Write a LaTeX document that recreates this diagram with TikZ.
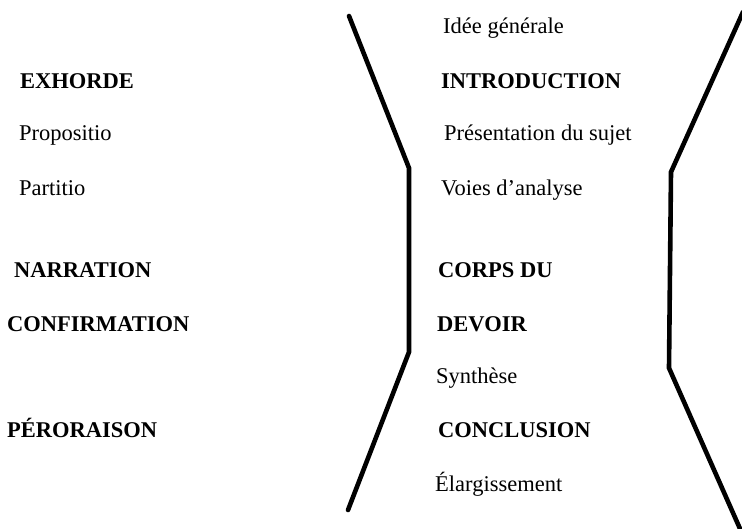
\documentclass[tikz,border=0pt]{standalone}
\usepackage{fontspec}
\newfontfamily\tmsfont{LiberationSerif}[Extension=.ttf,UprightFont=*-Regular,BoldFont=*-Bold]
\begin{document}
\begin{tikzpicture}[x=1pt,y=-1pt,
  lbl/.style={anchor=base west,inner sep=0pt,font=\tmsfont\fontsize{22.5}{27}\selectfont},
  blbl/.style={anchor=base west,inner sep=0pt,font=\tmsfont\bfseries\fontsize{22.5}{27}\selectfont},
  funnel/.style={line width=4.6pt,line join=miter,line cap=round}]
\useasboundingbox (0,0) rectangle (742,528);
\clip (0,0) rectangle (742,528);
% left column
\node[blbl] (exh) at (20,88) {EXHORDE};
\node[lbl] (prop) at (19,140) {Propositio};
\node[lbl] (part) at (19,195) {Partitio};
\node[blbl] (narr) at (14,277) {NARRATION};
\node[blbl] (conf) at (7,331) {CONFIRMATION};
\node[blbl] (pero) at (7,437) {PÉRORAISON};
% right column
\node[lbl] (idee) at (443,33) {Idée générale};
\node[blbl] (intro) at (441,88) {INTRODUCTION};
\node[lbl] (pres) at (444,140) {Présentation du sujet};
\node[lbl] (voies) at (441,195) {Voies d’analyse};
\node[blbl] (corps) at (438,277) {CORPS DU};
\node[blbl] (dev) at (437,331) {DEVOIR};
\node[lbl] (synt) at (436,383) {Synthèse};
\node[blbl] (concl) at (438,437) {CONCLUSION};
\node[lbl] (elarg) at (435,491) {Élargissement};
% funnel lines
\coordinate (l1) at (349,16);
\coordinate (l2) at (409,168);
\coordinate (l3) at (409,352);
\coordinate (l4) at (348,510);
\coordinate (r1) at (743,12);
\coordinate (r2) at (671,172);
\coordinate (r3) at (669,368);
\coordinate (r4) at (741,531);
\draw[funnel] (l1) -- (l2) -- (l3) -- (l4);
\draw[funnel] (r1) -- (r2) -- (r3) -- (r4);
\end{tikzpicture}
\end{document}
